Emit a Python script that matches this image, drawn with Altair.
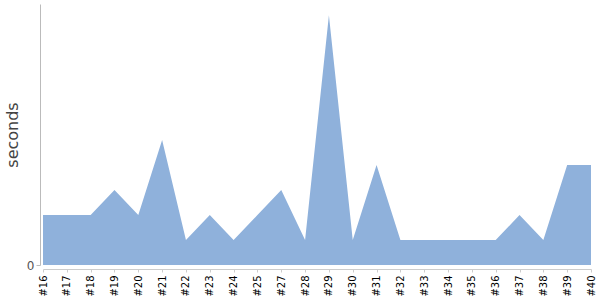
import altair as alt
import pandas as pd

labels = ["#16", "#17", "#18", "#19", "#20", "#21", "#22", "#23", "#24", "#25",
          "#27", "#28", "#29", "#30", "#31", "#32", "#33", "#34", "#35", "#36",
          "#37", "#38", "#39", "#40"]
seconds = [2, 2, 2, 3, 2, 5, 1, 2, 1, 2, 3, 1, 10, 1, 4, 1, 1, 1, 1, 1, 2, 1, 4, 4]

df = pd.DataFrame({"run": labels, "seconds": seconds})

chart = alt.Chart(df).mark_area(color="#8fb1db", opacity=1, interpolate="linear").encode(
    x=alt.X("run:N", sort=labels, scale=alt.Scale(type="point", padding=0),
            axis=alt.Axis(title=None, labelAngle=-90, labelFont="DejaVu Sans", labelFontSize=10,
                          labelColor="#000000", domainColor="#cccccc", tickColor="#cccccc",
                          tickSize=3, offset=4, labelPadding=3, grid=False)),
    y=alt.Y("seconds:Q", scale=alt.Scale(domain=[0, 10.45], nice=False),
            axis=alt.Axis(title="seconds", values=[0], grid=False, labelFont="DejaVu Sans",
                          labelFontSize=12, labelColor="#555555", titleFont="DejaVu Sans",
                          titleFontSize=16, titleFontWeight="normal", titleColor="#444444",
                          domainColor="#bbbbbb", tickColor="#bbbbbb", tickSize=4, offset=3,
                          labelPadding=2, titlePadding=6)),
).properties(
    width=548, height=261,
    autosize=alt.AutoSizeParams(type="none"),
    padding={"left": 43, "top": 4, "right": 9, "bottom": 35},
).configure_view(stroke=None)

chart.save("out.html", embed_options={"renderer": "svg", "actions": False})
